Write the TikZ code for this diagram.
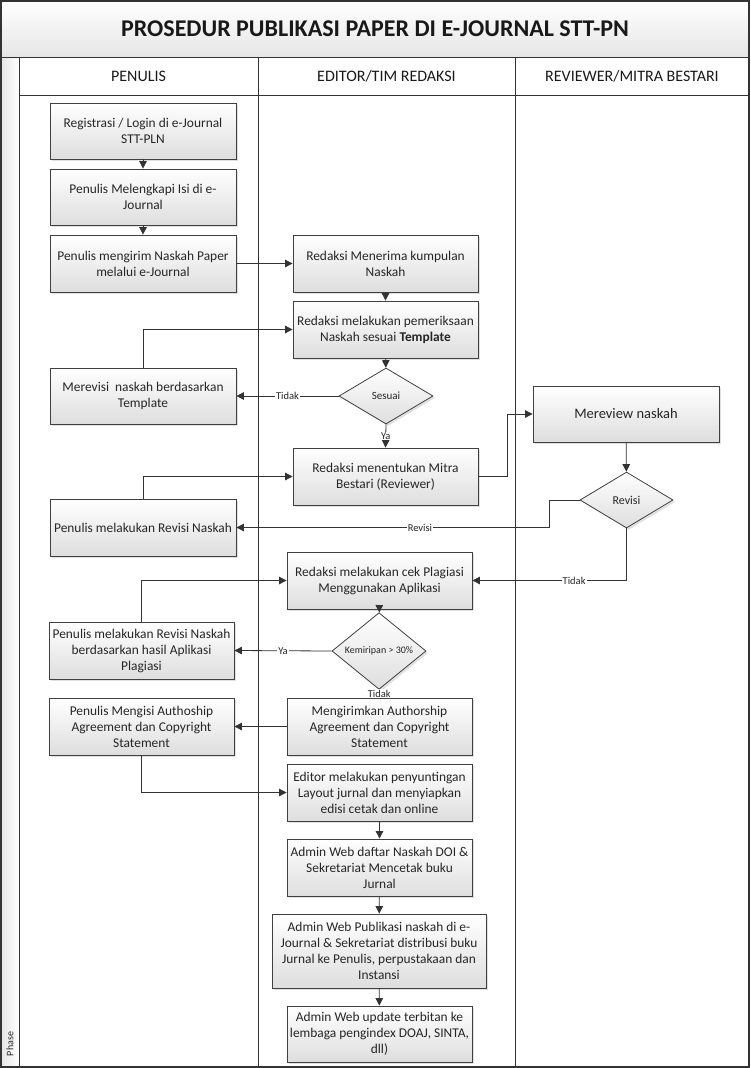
\documentclass[tikz,border=0pt]{standalone}
\usepackage{fontspec}
\setmainfont{Carlito}
\usetikzlibrary{arrows.meta,shapes.geometric,shadows}
\begin{document}
\begin{tikzpicture}[x=1pt,y=-1pt,
 box/.style={draw=black!75, line width=0.8pt, top color=white, bottom color=black!13,
   minimum width=186pt, minimum height=56pt, inner sep=1pt, align=center,
   font=\fontsize{13.4}{16}\selectfont, text=black!85,
   drop shadow={shadow xshift=2pt, shadow yshift=-2pt, opacity=0.3, fill=black!40}},
 dec/.style={diamond, draw=black!75, line width=0.8pt, top color=white, bottom color=black!13,
   minimum width=94pt, minimum height=56pt, inner sep=0pt, text=black!85,
   font=\fontsize{11}{12}\selectfont,
   drop shadow={shadow xshift=2pt, shadow yshift=-2pt, opacity=0.3, fill=black!40}},
 conn/.style={draw=black!80, line width=0.8pt, -{Triangle[length=7.5pt,width=7.5pt]}},
 lbl/.style={fill=white, inner sep=1pt, text=black!85, font=\fontsize{10.5}{11}\selectfont},
 lane/.style={draw=black!80, line width=0.9pt},
 hdr/.style={text=black!90, font=\fontsize{16}{18}\selectfont}
]
\useasboundingbox (0,0) rectangle (750,1068);
% frame and lanes
\shade[top color=white, bottom color=black!10] (1,1) rectangle (749,57);
\shade[left color=black!10, right color=white] (1,57) rectangle (19,1067);
\node[font=\bfseries\fontsize{24}{28}\selectfont, text=black!90] (title) at (375,29) {PROSEDUR PUBLIKASI PAPER DI E-JOURNAL STT-PN};
\draw[lane] (1,57) -- (749,57);
\draw[lane] (19,95) -- (749,95);
\draw[lane] (19,57) -- (19,1067);
\draw[lane] (258,57) -- (258,1067);
\draw[lane] (515,57) -- (515,1067);
\draw[draw=black!80, line width=1.3pt] (1,1) rectangle (749,1067);
\node[hdr] (h1) at (138.5,76) {PENULIS};
\node[hdr] (h2) at (386.5,76) {EDITOR/TIM REDAKSI};
\node[hdr] (h3) at (632,76) {REVIEWER/MITRA BESTARI};
\node[rotate=90, font=\fontsize{10}{11}\selectfont, text=black!85] (phase) at (10,1044) {Phase};

% nodes
\node[box] (m1) at (143,131) {Registrasi / Login di e-Journal\\STT-PLN};
\node[box] (m2) at (143,197) {Penulis Melengkapi Isi di e-\\Journal};
\node[box, minimum height=57pt] (m3) at (143,263.5) {Penulis mengirim Naskah Paper\\melalui e-Journal};
\node[box, minimum width=185pt, minimum height=57pt] (m4) at (385.5,263.5) {Redaksi Menerima kumpulan\\Naskah};
\node[box, minimum width=185pt, minimum height=57pt] (m5) at (385.5,329.5) {Redaksi melakukan pemeriksaan\\Naskah sesuai \textbf{Template}};
\node[dec] (d1) at (386,396) {Sesuai};
\node[box] (m7) at (143,396) {Merevisi~ naskah berdasarkan\\Template};
\node[box, minimum width=185pt, minimum height=57pt] (m8) at (385.5,476.5) {Redaksi menentukan Mitra\\Bestari (Reviewer)};
\node[box, font=\fontsize{14.5}{16}\selectfont] (m9) at (626,414) {Mereview naskah};
\node[dec, minimum width=93pt, font=\fontsize{12}{13}\selectfont] (d2) at (626.5,500) {Revisi};
\node[box, minimum height=57pt] (m11) at (143,527.5) {Penulis melakukan Revisi Naskah};
\node[box, minimum width=185pt, minimum height=57pt] (m12) at (379.5,580.5) {Redaksi melakukan cek Plagiasi\\Menggunakan Aplikasi};
\node[dec, font=\fontsize{10}{11}\selectfont] (d3) at (379,651) {Kemiripan > 30\%};
\node[box, minimum width=185pt, minimum height=57pt] (m14) at (141.5,650.5) {Penulis melakukan Revisi Naskah\\berdasarkan hasil Aplikasi\\Plagiasi};
\node[box, minimum width=185pt, minimum height=57pt] (m15) at (141.5,726.5) {Penulis Mengisi Authoship\\Agreement dan Copyright\\Statement};
\node[box, minimum width=185pt, minimum height=57pt] (m16) at (379.5,726.5) {Mengirimkan Authorship\\Agreement dan Copyright\\Statement};
\node[box, minimum width=185pt, minimum height=57pt] (m17) at (379.5,792.5) {Editor melakukan penyuntingan\\Layout jurnal dan menyiapkan\\edisi cetak dan online};
\node[box, minimum width=185pt, minimum height=57pt] (m18) at (379.5,867.5) {Admin Web daftar Naskah DOI \&\\Sekretariat Mencetak buku\\Jurnal};
\node[box, minimum width=214pt, minimum height=74pt] (m19) at (379,951) {Admin Web Publikasi naskah di e-\\Journal \& Sekretariat distribusi buku\\Jurnal ke Penulis, perpustakaan dan\\Instansi};
\node[box, minimum width=185pt, minimum height=56pt] (m20) at (379.5,1034) {Admin Web update terbitan ke\\lembaga pengindex DOAJ, SINTA,\\dll)};

% connectors
\draw[conn] (m1) -- (m2);
\draw[conn] (m2) -- (m3);
\draw[conn] (m3) -- (m4);
\draw[conn] (m4) -- (m5);
\draw[conn] (m5) -- (d1);
\draw[conn] (m7.north) |- (m5.west);
\draw[conn] (d1.west) -- node[lbl] {Tidak} (m7.east);
\draw[conn] (d1.south) -- node[lbl] {Ya} (m8.north);
\draw[conn] (m8.east) -- ++(29,0) |- (m9.west);
\draw[conn] (m9) -- (d2);
\draw[conn] (d2.west) -- ++(-30,0) |- node[lbl, pos=0.707] {Revisi} (m11.east);
\draw[conn] (m11.north) |- (m8.west);
\draw[conn] (d2.south) |- node[lbl, pos=0.67] {Tidak} (m12.east);
\draw[conn] (m12) -- (d3);
\draw[conn] (d3.west) -- node[lbl] {Ya} (m14.east);
\draw[conn] (m14.north) |- (m12.west);
\draw[conn] (d3.south) -- node[lbl] {Tidak} (m16.north);
\draw[conn] (m16) -- (m15);
\draw[conn] (m15.south) |- (m17.west);
\draw[conn] (m17) -- (m18);
\draw[conn] (m18) -- (m19);
\draw[conn] (m19) -- (m20);
\end{tikzpicture}
\end{document}
